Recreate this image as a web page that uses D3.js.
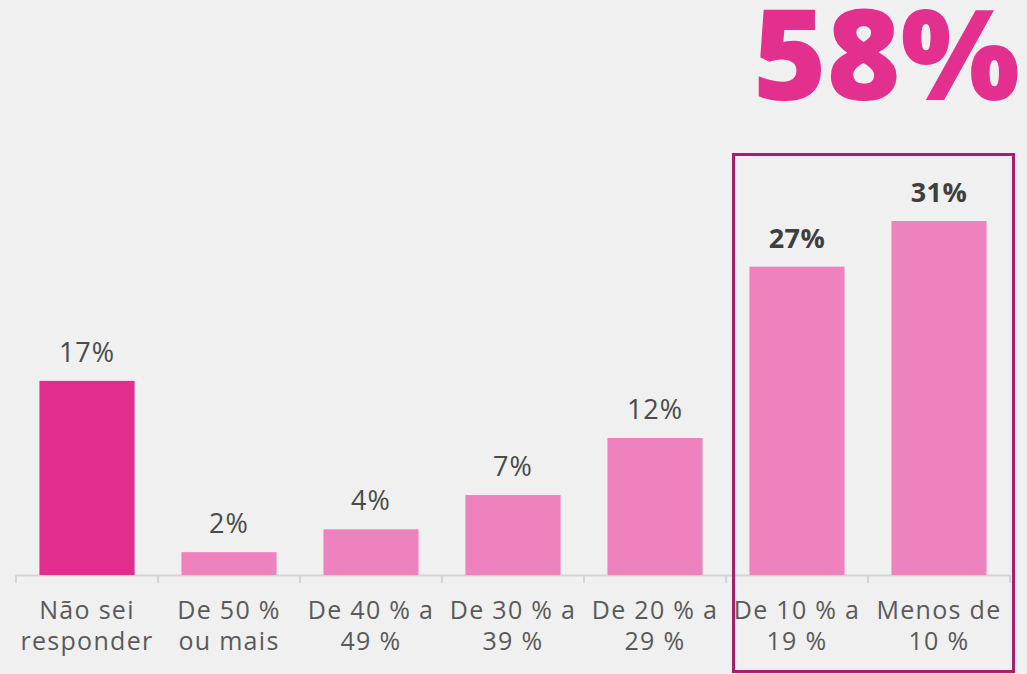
<!DOCTYPE html>
<html><head><meta charset="utf-8">
<script src="https://cdn.jsdelivr.net/npm/d3@7/dist/d3.min.js"></script>
<style>
html,body{margin:0;padding:0;background:#f0f0f0;}
svg{display:block;}
</style></head>
<body><svg id="c" width="1027" height="674"></svg>
<script>
const categories = [["Não sei","responder"],["De 50 %","ou mais"],["De 40 % a","49 %"],["De 30 % a","39 %"],["De 20 % a","29 %"],["De 10 % a","19 %"],["Menos de","10 %"]];
const values = [17, 2, 4, 7, 12, 27, 31];
const valueLabels = ["17%","2%","4%","7%","12%","27%","31%"];
const highlighted = [false,false,false,false,false,true,true];
const totalLabel = "58%";

const W = 1027, H = 674;
const font = "'Open Sans', 'Noto Sans', sans-serif";
const svg = d3.select("#c");
svg.append("rect").attr("width", W).attr("height", H).attr("fill", "#f0f0f0");

const idx = d3.range(categories.length);
const x = d3.scaleBand().domain(idx).range([16, 1010]).paddingInner(0.33).paddingOuter(0.165);
const y = d3.scaleLinear().domain([0, 31]).range([575, 221]);
const step = x.step();

// baseline and ticks
svg.append("line").attr("x1", 16).attr("x2", 1010).attr("y1", 575.5).attr("y2", 575.5)
  .attr("stroke", "#d4d4d4").attr("stroke-width", 2);
const tickXs = idx.map(i => x(i) - step * x.paddingInner() / 2).concat([x(idx.length-1) + x.bandwidth() + step * x.paddingInner() / 2]);
svg.selectAll("line.tick").data(tickXs).join("line")
  .attr("x1", d => d).attr("x2", d => d).attr("y1", 575).attr("y2", 583)
  .attr("stroke", "#d4d4d4").attr("stroke-width", 2);

// bars
svg.selectAll("rect.bar").data(values).join("rect")
  .attr("x", (d, i) => x(i)).attr("width", x.bandwidth())
  .attr("y", d => y(d)).attr("height", d => y(0) - y(d))
  .attr("fill", (d, i) => i === 0 ? "#e22d8f" : "#ee82bf");

// value labels
svg.selectAll("text.val").data(values).join("text")
  .attr("x", (d, i) => x(i) + x.bandwidth() / 2)
  .attr("y", d => y(d) - 19)
  .attr("text-anchor", "middle")
  .attr("font-family", font)
  .attr("font-size", 27)
  .attr("letter-spacing", (d, i) => highlighted[i] ? 0.5 : 1)
  .attr("font-weight", (d, i) => highlighted[i] ? 700 : 400)
  .attr("fill", (d, i) => highlighted[i] ? "#3f3f3f" : "#4a4a4a")
  .text((d, i) => valueLabels[i]);

// category labels
const cl = svg.selectAll("text.cat").data(categories).join("text")
  .attr("text-anchor", "middle")
  .attr("font-family", font)
  .attr("font-size", 25)
  .attr("letter-spacing", 1.3)
  .attr("fill", "#5a5a5a");
cl.each(function(d, i) {
  const t = d3.select(this);
  d.forEach((line, j) => {
    t.append("tspan").attr("x", x(i) + x.bandwidth() / 2).attr("y", 619 + j * 31).text(line);
  });
});

// highlight box
svg.append("rect").attr("x", 733.5).attr("y", 154.5).attr("width", 280).attr("height", 517)
  .attr("fill", "none").attr("stroke", "#a81d6c").attr("stroke-width", 3);

// total
svg.append("text").attr("x", 753).attr("y", 100)
  .attr("font-family", font).attr("font-weight", 800).attr("font-size", 126)
  .attr("fill", "#e3308f")
  .attr("textLength", 267).attr("lengthAdjust", "spacingAndGlyphs")
  .text(totalLabel);
</script></body></html>
